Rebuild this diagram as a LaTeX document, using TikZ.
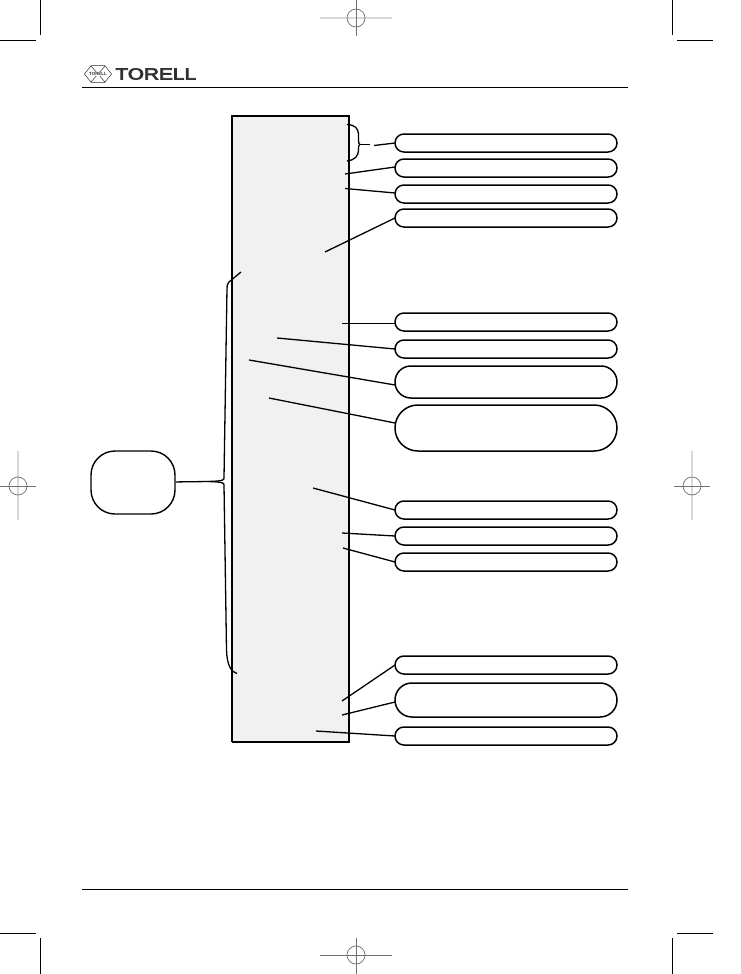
\documentclass[tikz,border=0pt]{standalone}
\usepackage{fontspec}
\setmainfont{Liberation Sans}
\newfontfamily\logofont[FakeBold=4]{Liberation Sans}
\usetikzlibrary{shapes.geometric}
\definecolor{panelgrey}{HTML}{F1F1F1}
\definecolor{regdark}{HTML}{707070}
\definecolor{reglight}{HTML}{D8D8D8}
\definecolor{logogrey}{HTML}{303030}
\tikzset{
  callout/.style={draw=black, line width=1.5pt, fill=white},
  leader/.style={draw=black, line width=1.3pt},
  crop/.style={draw=black, line width=1pt},
  rule/.style={draw=black, line width=1.1pt},
  regthin/.style={draw=regdark, line width=0.6pt},
  regthick/.style={draw=reglight, line width=1.6pt},
  regring/.style={draw=regdark, line width=0.7pt, circle, minimum size=18pt, inner sep=0pt},
  anchorpt/.style={inner sep=0pt, outer sep=0pt}
}
% a callout: corner radius, name, left-top corner, right-bottom corner
\newcommand{\callbox}[4]{\path[callout, rounded corners=#1pt] (#3) rectangle (#4) node[midway, anchorpt] (#2mid) {};
  \coordinate (#2) at (#3 |- #2mid);}
\begin{document}
\begin{tikzpicture}[x=1pt,y=-1pt]
\useasboundingbox (0,0) rectangle (740,974);
\fill[white] (0,0) rectangle (740,974);

% trim marks
\draw[crop] (40.5,0) -- (40.5,35.5);
\draw[crop] (0,40.5) -- (36,40.5);
\draw[crop] (672.5,0) -- (672.5,35.5);
\draw[crop] (677,40.5) -- (713,40.5);
\draw[crop] (0,933.5) -- (36,933.5);
\draw[crop] (40.5,938) -- (40.5,974);
\draw[crop] (677,933.5) -- (713,933.5);
\draw[crop] (672.5,938) -- (672.5,974);

% registration targets
\draw[regthick] (320,18) -- (392,18);
\draw[regthin] (356,0) -- (356,36);
\node[regring] (regtop) at (356,18) {};
\draw[regthick] (18,451) -- (18,520);
\draw[regthin] (0,486) -- (36,486);
\node[regring] (regleft) at (18,486) {};
\draw[regthick] (692,451) -- (692,520);
\draw[regthin] (674,486) -- (710,486);
\node[regring] (regright) at (692,486) {};
\draw[regthin] (320,955) -- (392,955);
\draw[regthin] (356,938) -- (356,974);
\node[regring] (regbottom) at (356,955) {};

% running head
\draw[rule] (82,87.5) -- (628,87.5);
\draw[rule] (82,889.5) -- (628,889.5);
\node[anchorpt, text=logogrey, font=\logofont\fontsize{16}{16}\selectfont, anchor=west, xscale=1.3] (logo) at (115.5,74) {TORELL};
\draw[logogrey, line width=0.5pt] (91,66) -- (105,82) (105,66) -- (91,82);
\node[draw=logogrey, line width=0.5pt, regular polygon, regular polygon sides=6, minimum size=27pt, inner sep=0pt, yscale=0.72] (emblem) at (98,74) {};
\node[anchorpt, fill=white, text=logogrey, font=\bfseries\fontsize{4.4}{4.4}\selectfont] (emblemtext) at (98,74) {TORELL};

% main panel
\fill[panelgrey] (232,115) rectangle (349,742);
\draw[black, line width=1.1pt] (232,115) -- (232,742);
\draw[black, line width=2pt] (231.5,115.5) -- (348.5,115.5) -- (348.5,741.5) -- (231.5,741.5);

% callouts down the right side
\callbox{8.9}{c1}{395,134}{617,152}
\callbox{8.9}{c2}{395,159}{617,177}
\callbox{8.9}{c3}{395,185}{617,203}
\callbox{8.9}{c4}{395,209}{617,227}
\callbox{8.9}{c5}{395,313}{617,331}
\callbox{8.9}{c6}{395,340}{617,358}
\callbox{15.9}{c7}{395,366}{617,398}
\callbox{22.9}{c8}{395,405}{617,451}
\callbox{8.9}{c9}{395,501}{617,519}
\callbox{8.9}{c10}{395,527}{617,545}
\callbox{8.9}{c11}{395,553}{617,571}
\callbox{8.9}{c12}{395,656}{617,674}
\callbox{16.9}{c13}{395,683}{617,717}
\callbox{8.9}{c14}{395,727}{617,745}

% group box on the left
\node[draw=black, line width=1.4pt, fill=white, rounded corners=24pt, minimum width=84pt, minimum height=63pt, inner sep=0pt] (group) at (133,482.5) {};

% free ends of the leaders, on the panel
\coordinate (p2) at (345,174);
\coordinate (p3) at (345,188.5);
\coordinate (p4) at (325,252);
\coordinate (p5) at (342,323.5);
\coordinate (p6) at (277,338);
\coordinate (p7) at (249,360);
\coordinate (p8) at (269,398);
\coordinate (p9) at (313,488);
\coordinate (p10) at (342,533);
\coordinate (p11) at (343,548);
\coordinate (p12) at (342,701);
\coordinate (p13) at (342,715);
\coordinate (p14) at (316,731);

\draw[leader] (c2) ++(0,-1) -- (p2);
\draw[leader] (c3) ++(0,-1) -- (p3);
\draw[leader] (c4) -- (p4);
\draw[leader] (c5) ++(0,1.5) -- (p5);
\draw[leader] (c6) -- (p6);
\draw[leader] (c7) ++(0,3) -- (p7);
\draw[leader] (c8) ++(0,-5) -- (p8);
\draw[leader] (c9) -- (p9);
\draw[leader] (c10) -- (p10);
\draw[leader] (c11) -- (p11);
\draw[leader] (c12) -- (p12);
\draw[leader] (c13) ++(0,2) -- (p13);
\draw[leader] (c14) -- (p14);

% small bracket at the top of the panel
\coordinate (bt) at (347,124.5);
\coordinate (bb) at (347,161);
\coordinate (bw) at (360,144.5);
\coordinate (bg) at (374,145.5);
\draw[leader] (bt) .. controls (355,125) and (358,128) .. (358.5,134) -- (358.5,140) .. controls (358.5,143) and (359,144) .. (bw);
\draw[leader] (bb) .. controls (355,160) and (358.5,156) .. (358.5,150) -- (358.5,148) .. controls (358.5,146) and (359,145) .. (bw);
\draw[leader, line width=1.5pt] (bw) -- (370,144.5);
\draw[leader] (bg) -- (c1);

% long bracket joining the group box to the panel
\coordinate (lt) at (241,272);
\coordinate (lb) at (237,673.5);
\coordinate (ltip) at (209,481.5);
\draw[leader] (group) -- (ltip);
\draw[leader] (lt) -- (229,282) .. controls (227.5,284) and (227,285) .. (227,288) -- (224,478) .. controls (224,480) and (223,481) .. (ltip);
\draw[leader] (lb) .. controls (231,672) and (227,665) .. (226.5,650) -- (224,485) .. controls (224,483) and (223,482) .. (ltip);
\end{tikzpicture}
\end{document}
